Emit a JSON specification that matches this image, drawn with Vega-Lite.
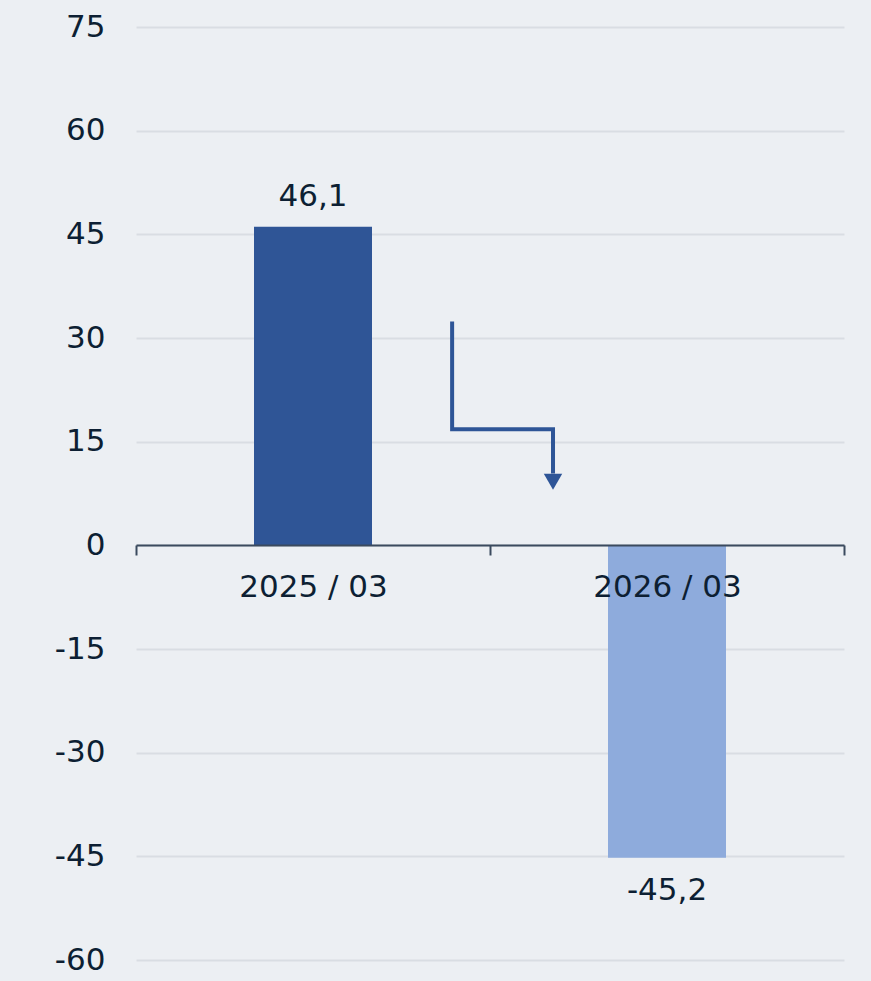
{
  "$schema": "https://vega.github.io/schema/vega-lite/v6.json",
  "autosize": {"type": "none"},
  "width": 708,
  "height": 933,
  "padding": {"left": 136, "top": 27, "right": 27, "bottom": 21},
  "background": "#eceff3",
  "config": {
    "view": {"stroke": null},
    "font": "DejaVu Sans",
    "locale": {"number": {"decimal": ",", "thousands": ".", "grouping": [3], "currency": ["", " €"], "minus": "-"}}
  },
  "datasets": {
    "bars": [
      {"period": "2025 / 03", "value": 46.1},
      {"period": "2026 / 03", "value": -45.2}
    ],
    "arrow": [
      {"step": 1, "x": 0.893, "y": 32.4},
      {"step": 2, "x": 0.893, "y": 16.8},
      {"step": 3, "x": 1.178, "y": 16.8},
      {"step": 4, "x": 1.178, "y": 10.4}
    ],
    "head": [{"x": 1.178, "y": 9.2}]
  },
  "layer": [
    {
      "data": {"name": "bars"},
      "layer": [
        {
          "mark": {"type": "bar", "size": 118},
          "encoding": {
            "x": {
              "field": "period", "type": "nominal", "sort": null,
              "scale": {"padding": 0},
              "axis": {
                "title": null, "labelAngle": 0, "offset": -415, "zindex": 1,
                "domainColor": "#3b4a5e", "domainWidth": 2,
                "tickBand": "extent", "tickColor": "#3b4a5e", "tickWidth": 2, "tickSize": 10,
                "labelFontSize": 31, "labelColor": "#0d1f33", "labelPadding": 17, "labelFont": "DejaVu Sans"
              }
            },
            "y": {
              "field": "value", "type": "quantitative",
              "scale": {"domain": [-60, 75], "nice": false},
              "axis": {
                "title": null, "values": [-60, -45, -30, -15, 0, 15, 30, 45, 60, 75],
                "domain": false, "ticks": false, "labelPadding": 31,
                "labelFontSize": 31, "labelColor": "#0d1f33", "format": "d",
                "gridColor": "#d9dde3", "gridWidth": 2
              }
            },
            "color": {
              "field": "period", "type": "nominal",
              "scale": {"range": ["#2f5596", "#8eabdc"]},
              "legend": null
            }
          }
        },
        {
          "transform": [{"filter": "datum.value >= 0"}],
          "mark": {"type": "text", "baseline": "bottom", "dy": -14, "fontSize": 31, "color": "#0d1f33"},
          "encoding": {
            "x": {"field": "period", "type": "nominal", "sort": null},
            "y": {"field": "value", "type": "quantitative"},
            "text": {"field": "value", "type": "quantitative", "format": ".1f"}
          }
        },
        {
          "transform": [{"filter": "datum.value < 0"}],
          "mark": {"type": "text", "baseline": "top", "dy": 18, "fontSize": 31, "color": "#0d1f33"},
          "encoding": {
            "x": {"field": "period", "type": "nominal", "sort": null},
            "y": {"field": "value", "type": "quantitative"},
            "text": {"field": "value", "type": "quantitative", "format": ".1f"}
          }
        }
      ]
    },
    {
      "data": {"name": "arrow"},
      "mark": {"type": "line", "color": "#2e5597", "strokeWidth": 4, "strokeCap": "butt", "strokeJoin": "miter"},
      "encoding": {
        "x": {"field": "x", "type": "quantitative", "scale": {"domain": [0, 2], "nice": false, "zero": false}, "axis": null},
        "y": {"field": "y", "type": "quantitative"},
        "order": {"field": "step"}
      }
    },
    {
      "data": {"name": "head"},
      "mark": {"type": "point", "shape": "triangle-down", "filled": true, "color": "#2e5597", "size": 340, "opacity": 1},
      "encoding": {
        "x": {"field": "x", "type": "quantitative", "scale": {"domain": [0, 2], "nice": false, "zero": false}, "axis": null},
        "y": {"field": "y", "type": "quantitative"}
      }
    }
  ],
  "resolve": {"scale": {"x": "independent"}}
}
